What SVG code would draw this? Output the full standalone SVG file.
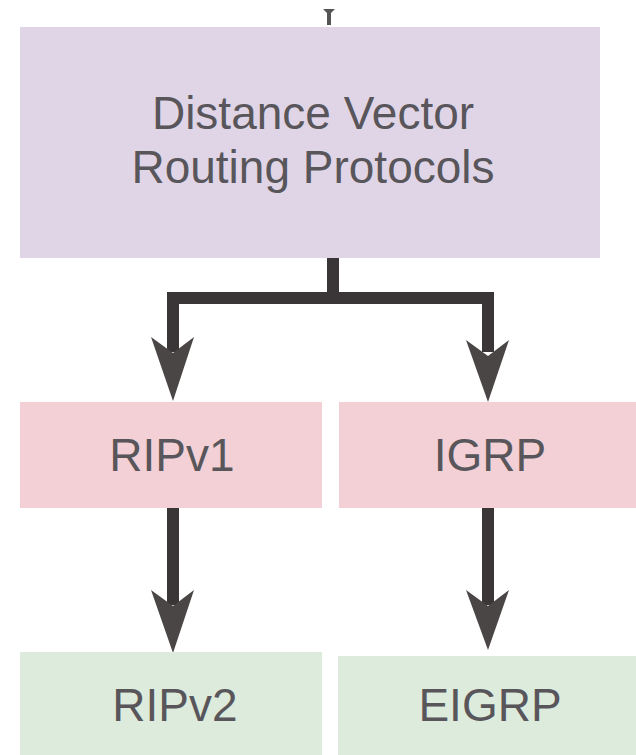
<svg xmlns="http://www.w3.org/2000/svg" width="636" height="755" viewBox="0 0 636 755">
<style>
.lbl{font-family:"Liberation Sans",Arial,sans-serif;font-size:46px;fill:#58565a;text-anchor:middle}
.conn{fill:none;stroke:#3a3536;stroke-width:12;stroke-linejoin:miter}
.head{fill:#4a4646}
</style>
<rect width="636" height="755" fill="#fff"/>
<g id="connectors">
<path d="M323,9 L335,9 L331,13 L331,25 L327,25 L327,13 Z" fill="#555"/>
<path class="conn" d="M333,258 V298 H173 V352"/>
<path class="conn" d="M333,298 H488 V352"/>
<polygon class="head" points="151,337 173,353 194,337 173,401"/>
<polygon class="head" points="466,340 488,356 509,340 488,402"/>
<path class="conn" d="M173,508 V605"/>
<path class="conn" d="M488,508 V605"/>
<polygon class="head" points="151,590 173,606 194,590 173,653"/>
<polygon class="head" points="466,590 488,606 509,590 488,650"/>
</g>
<g id="dv">
<rect x="20" y="27" width="580" height="231" fill="#e0d5e7"/>
<text class="lbl" x="313" y="129">Distance Vector</text>
<text class="lbl" x="313" y="183">Routing Protocols</text>
</g>
<g id="ripv1">
<rect x="20" y="402" width="302" height="106" fill="#f2d0d6"/>
<text class="lbl" x="172" y="471">RIPv1</text>
</g>
<g id="igrp">
<rect x="339" y="402" width="297" height="106" fill="#f2d0d6"/>
<text class="lbl" x="490" y="471">IGRP</text>
</g>
<g id="ripv2">
<rect x="20" y="652" width="302" height="103" fill="#dcebdb"/>
<text class="lbl" x="175" y="721">RIPv2</text>
</g>
<g id="eigrp">
<rect x="338" y="656" width="298" height="99" fill="#dcebdb"/>
<text class="lbl" x="490" y="721">EIGRP</text>
</g>
</svg>
